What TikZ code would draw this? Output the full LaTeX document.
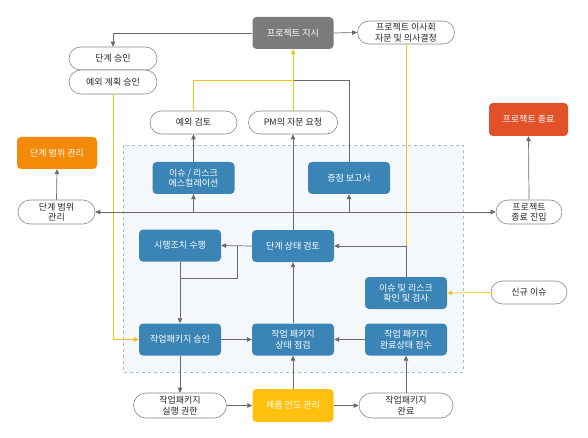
\documentclass[tikz,border=0pt]{standalone}
\usepackage{fontspec}
\setmainfont{Noto Sans CJK KR}
\usetikzlibrary{shapes.misc,arrows.meta}
\definecolor{blu}{HTML}{3B84B6}
\definecolor{gry}{HTML}{7B7B7B}
\definecolor{org}{HTML}{F48A08}
\definecolor{red}{HTML}{E1522A}
\definecolor{yel}{HTML}{FFC10E}
\definecolor{linec}{HTML}{6A6A6A}
\definecolor{yline}{HTML}{F4C21A}
\definecolor{pillc}{HTML}{8A8A8A}
\definecolor{regionc}{HTML}{F4F8FB}
\definecolor{dashc}{HTML}{A9BCCC}
\begin{document}
\begin{tikzpicture}[x=1pt,y=-1pt,
  font=\fontsize{9}{10.5}\selectfont,
  box/.style={rounded corners=4pt, minimum width=82pt, minimum height=32pt, text=white, align=center, inner sep=1pt},
  bluebox/.style={box, fill=blu},
  pill/.style={rounded rectangle, draw=pillc, line width=0.6pt, fill=white, minimum height=23pt, align=center, inner sep=1pt, text=black!85},
  arr/.style={-{Triangle[length=5pt,width=4.5pt]}, draw=linec, line width=0.7pt},
  ln/.style={draw=linec, line width=0.7pt},
  yarr/.style={-{Triangle[length=5pt,width=4.5pt]}, draw=yline, line width=0.7pt},
  yln/.style={draw=yline, line width=0.7pt}]
\useasboundingbox (0,0) rectangle (588,438);
\fill[white] (0,0) rectangle (588,438);
\draw[dashed, draw=dashc, fill=regionc, line width=0.5pt] (123,145) rectangle (463,372);

% top
\node[box, fill=gry, minimum width=81pt] (dir) at (293,33) {프로젝트 지시};
\node[pill, minimum width=99pt] (board) at (406,32.5) {프로젝트 이사회\\자문 및 의사결정};
\node[pill, minimum width=90pt] (apv) at (113,58.5) {단계 승인};
\node[pill, minimum width=90pt, minimum height=24pt] (exapv) at (113,82) {예외 계획 승인};
\node[pill, minimum width=89pt] (exrev) at (193.5,122.5) {예외 검토};
\node[pill, minimum width=91pt] (pmreq) at (293,122.5) {PM의 자문 요청};

% sides
\node[box, fill=org, minimum width=80pt] (scopeb) at (57,153) {단계 범위 관리};
\node[pill, minimum width=79pt, minimum height=24pt] (scopep) at (56.5,212) {단계 범위\\관리};
\node[box, fill=red, minimum width=79pt, minimum height=33pt] (endb) at (528.5,119.5) {프로젝트 종료};
\node[pill, minimum width=68pt, minimum height=24pt] (endp) at (529,212) {프로젝트\\종료 진입};
\node[pill, minimum width=78pt] (newi) at (529,292.5) {신규 이슈};

% inner blue boxes
\node[bluebox] (esc) at (193.5,178) {이슈 / 리스크\\에스컬레이션};
\node[bluebox] (hl) at (349,178) {증점 보고서};
\node[bluebox] (act) at (180,245.5) {시행조치 수행};
\node[bluebox] (rev) at (293,246) {단계 상태 검토};
\node[bluebox] (iss) at (406,293) {이슈 및 리스크\\확인 및 검사};
\node[bluebox] (wpa) at (180,339.5) {작업패키지 승인};
\node[bluebox] (wps) at (293,339.5) {작업 패키지\\상태 점검};
\node[bluebox] (wpc) at (406,339.5) {작업 패키지\\완료상태 접수};

% bottom
\node[pill, minimum width=95pt, minimum height=25pt] (auth) at (180,405.5) {작업패키지\\실행 권한};
\node[box, fill=yel, minimum width=81pt, minimum height=33pt] (deliv) at (293,405.5) {제품 인도 관리};
\node[pill, minimum width=96pt, minimum height=25pt] (done) at (406,405.5) {작업패키지\\완료};

\coordinate (ym) at (293,80);
\coordinate (hub) at (293,212);
\coordinate (j1) at (237,246);
\coordinate (j2) at (180,278);

% connectors
\draw[arr] (dir.west) -| (apv.north);
\draw[arr] (dir.east) -- (board.west);
\draw[yarr] (exapv.south) |- (wpa.west);
\draw[yln] (exrev.north) |- (ym);
\draw[ln] (hl.north) |- (ym);
\draw[yarr] (pmreq.north) -- (dir.south);
\draw[yln] (board.south) -- (board.south |- rev.east);
\draw[arr] (iss.north) |- (rev.east);
\draw[arr] (rev.north) -- (pmreq.south);
\draw[arr] (hub) -- (scopep.east);
\draw[arr] (hub) -- (endp.west);
\draw[arr] (esc.south |- hub) -- (esc.south);
\draw[arr] (hl.south |- hub) -- (hl.south);
\draw[arr] (esc.north) -- (exrev.south);
\draw[arr] (scopep.north) -- (scopeb.south);
\draw[arr] (endp.north) -- (endb.south);
\draw[yarr] (newi.west) -- (iss.east);
\draw[arr] (rev.west) -- (act.east);
\draw[ln] (j1) |- (j2);
\draw[arr] (act.south) -- (wpa.north);
\draw[arr] (wps.north) -- (rev.south);
\draw[arr] (wpa.east) -- (wps.west);
\draw[arr] (wpc.west) -- (wps.east);
\draw[arr] (wpa.south) -- (auth.north);
\draw[arr] (auth.east) -- (deliv.west);
\draw[arr] (deliv.east) -- (done.west);
\draw[arr] (deliv.north) -- (wps.south);
\draw[arr] (done.north) -- (wpc.south);
\end{tikzpicture}
\end{document}
